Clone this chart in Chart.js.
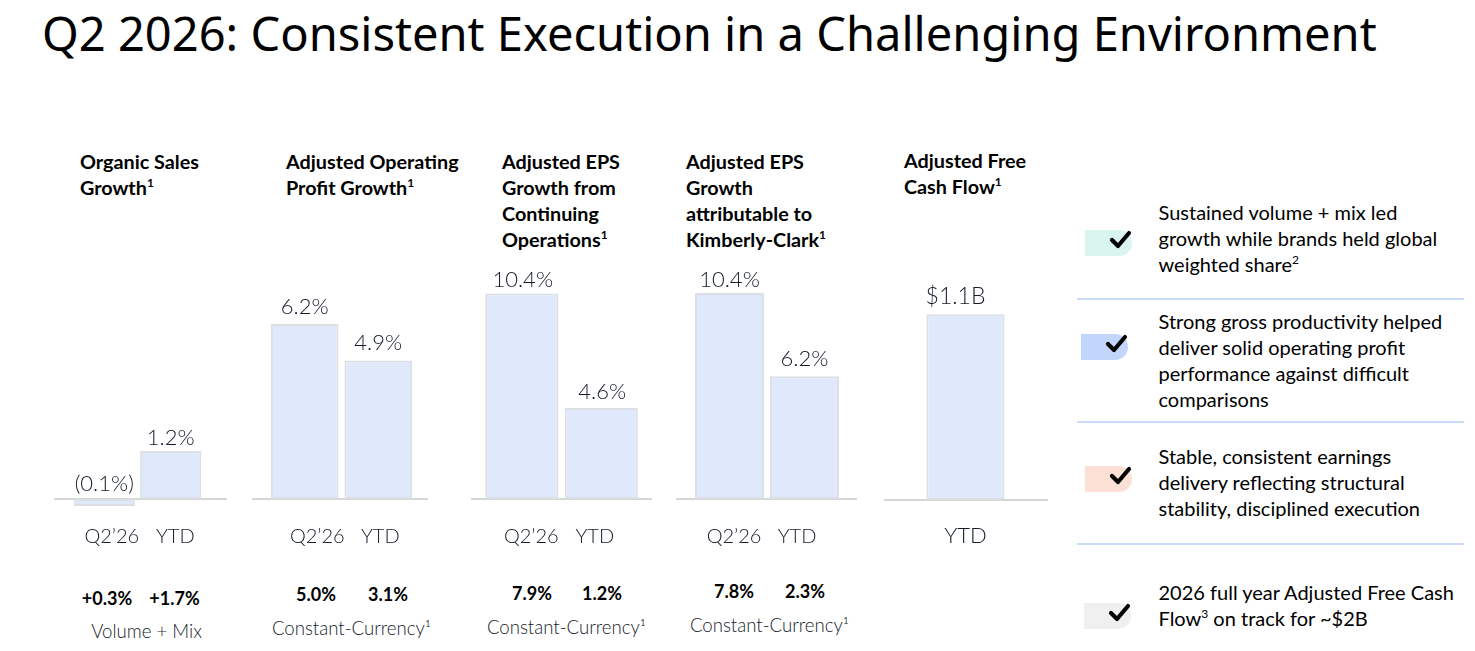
<!DOCTYPE html>
<html>
<head>
<meta charset="utf-8">
<script src="https://cdn.jsdelivr.net/npm/chart.js@4"></script>
<style>
  html, body { margin: 0; background: #fff; }
  body { width: 1475px; height: 651px; position: relative; overflow: hidden; font-family: Lato, sans-serif; }
  canvas { position: absolute; }
  .t { position: absolute; white-space: nowrap; }
  h1 { position: absolute; left: 42px; top: 1px; margin: 0; font: 400 47.07px "Noto Sans", sans-serif; color: #000; white-space: nowrap; }
  .head { font-weight: 700; font-size: 19.8px; line-height: 26px; color: #000; }
  .bold { font-weight: 700; font-size: 18px; color: #000; transform: translate(-50%, -50%); }
  .note { font-weight: 300; font-size: 18.6px; color: #141b2b; transform: translate(-50%, -50%); }
  .side { font-size: 20px; line-height: 26px; color: #000; }
  .side sup, .head sup { font-size: 0.6em; line-height: 0; }
  .rule { position: absolute; left: 1077px; width: 387px; height: 2px; background: #cbdaf8; }
  .pill { position: absolute; width: 47px; height: 26px; border-radius: 0 13px 13px 0; }
  .pill svg { position: absolute; left: 24px; top: -2px; }
</style>
</head>
<body>
<h1>Q2 2026: Consistent Execution in a Challenging Environment</h1>

<script>
// values
const organicLabels = ['Q2’26', 'YTD'];
const organicValues = [-0.1, 1.2];
const opProfitLabels = ['Q2’26', 'YTD'];
const opProfitValues = [6.2, 4.9];
const epsContLabels = ['Q2’26', 'YTD'];
const epsContValues = [10.4, 4.6];
const epsKcLabels = ['Q2’26', 'YTD'];
const epsKcValues = [10.4, 6.2];
const fcfLabels = ['YTD'];
const fcfValues = [1.1];

const headings = [
  'Organic Sales<br>Growth<sup>1</sup>',
  'Adjusted Operating<br>Profit Growth<sup>1</sup>',
  'Adjusted EPS<br>Growth from<br>Continuing<br>Operations<sup>1</sup>',
  'Adjusted EPS<br>Growth<br>attributable to<br>Kimberly-Clark<sup>1</sup>',
  'Adjusted Free<br>Cash Flow<sup>1</sup>'
];
const subValues = [['+0.3%', '+1.7%'], ['5.0%', '3.1%'], ['7.9%', '1.2%'], ['7.8%', '2.3%']];
const subNotes = ['Volume + Mix', 'Constant-Currency¹', 'Constant-Currency¹', 'Constant-Currency¹'];
const sideNotes = [
  'Sustained volume + mix led<br>growth while brands held global<br>weighted share<sup>2</sup>',
  'Strong gross productivity helped<br>deliver solid operating profit<br>performance against difficult<br>comparisons',
  'Stable, consistent earnings<br>delivery reflecting structural<br>stability, disciplined execution',
  '2026 full year Adjusted Free Cash<br>Flow<sup>3</sup> on track for ~$2B'
];

// layout
const panelBoxes = [
  { left: 54, width: 173, padL: 17, padR: 23, yMin: -1.525, yMax: 6.1, minBar: 7, gaps: [8, 6], valueShift: 0, tickShift: [7.5, 4.5], tickDrop: 38, valueSize: 22 },
  { left: 252, width: 176, padL: 16, padR: 13, yMin: -2.16, yMax: 8.64, minBar: 0, gaps: [10, 11], valueShift: 0, tickShift: [12.5, 2], tickDrop: 38, valueSize: 22 },
  { left: 471, width: 181, padL: 11, padR: 11, yMin: -3.09, yMax: 12.35, minBar: 0, gaps: [7, 9], valueShift: 1, tickShift: [9.5, -6.5], tickDrop: 38, valueSize: 22 },
  { left: 676, width: 181, padL: 16, padR: 15, yMin: -3.08, yMax: 12.32, minBar: 0, gaps: [6, 10], valueShift: 0, tickShift: [4.5, -7.5], tickDrop: 38, valueSize: 22 },
  { left: 884, width: 164, padL: 39, padR: 40, yMin: -0.355, yMax: 1.45, minBar: 0, gaps: [10], valueShift: -10, tickShift: [0], tickDrop: 36, valueSize: 23 }
];
const headPos = [[80, 148], [286, 148], [502, 148], [686, 148], [904, 147]];
const subPos = [[[107, 598], [174.5, 598]], [[316, 594], [388, 594]], [[532, 593], [602, 593]], [[734, 591], [805, 591]]];
const notePos = [[146.5, 631], [351.5, 628], [566.5, 627], [769.5, 625]];
const sidePos = [[1158.5, 199], [1158.5, 308], [1158.5, 443], [1158.5, 579]];
const pillPos = [[1085, 230, '#d9f5f0'], [1081, 334, '#c2d5fb'], [1085, 466, '#fde0d5'], [1084, 603, '#f0f0f0']];
const rulePos = [298, 421, 543];

function addText(cls, html, x, y) {
  const el = document.createElement('div');
  el.className = 't ' + cls;
  el.innerHTML = html;
  el.style.left = x + 'px';
  el.style.top = y + 'px';
  document.body.appendChild(el);
}

headings.forEach((h, i) => addText('head', h, headPos[i][0], headPos[i][1]));
subValues.forEach((pair, i) => pair.forEach((v, j) => addText('bold', v, subPos[i][j][0], subPos[i][j][1])));
subNotes.forEach((n, i) => addText('note', n, notePos[i][0], notePos[i][1]));
sideNotes.forEach((n, i) => addText('side', n, sidePos[i][0], sidePos[i][1]));
rulePos.forEach(y => {
  const r = document.createElement('div');
  r.className = 'rule';
  r.style.top = y + 'px';
  document.body.appendChild(r);
});
pillPos.forEach(p => {
  const d = document.createElement('div');
  d.className = 'pill';
  d.style.left = p[0] + 'px';
  d.style.top = p[1] + 'px';
  d.style.background = p[2];
  d.innerHTML = '<svg width="24" height="24" viewBox="0 0 24 24"><polyline points="3,12 9,18 20,5" fill="none" stroke="#000" stroke-width="4.2" stroke-linecap="round" stroke-linejoin="round"/></svg>';
  document.body.appendChild(d);
});

// zero line runs the full width of the canvas, past the plot area
const baseline = {
  id: 'baseline',
  beforeDatasetsDraw(chart) {
    const y = chart.scales.y.getPixelForValue(0);
    const ctx = chart.ctx;
    ctx.save();
    ctx.strokeStyle = '#c9c9c9';
    ctx.lineWidth = 1.5;
    ctx.beginPath();
    ctx.moveTo(0, y);
    ctx.lineTo(chart.width, y);
    ctx.stroke();
    ctx.restore();
  }
};

// value labels over the bars, category labels under the zero line
// the slide's labels sit a little off the bar centres, so each carries its own shift
const barText = {
  id: 'barText',
  afterDatasetsDraw(chart, args, opts) {
    const ctx = chart.ctx;
    const bars = chart.getDatasetMeta(0).data;
    const zero = chart.scales.y.getPixelForValue(0);
    ctx.save();
    ctx.fillStyle = '#141b2b';
    ctx.textAlign = 'center';
    bars.forEach((bar, i) => {
      const v = chart.data.datasets[0].data[i];
      const top = v < 0 ? zero : bar.y;
      ctx.font = '300 ' + opts.box.valueSize + 'px Lato';
      ctx.textBaseline = 'alphabetic';
      ctx.fillText(opts.format(v), bar.x + opts.box.valueShift, top - opts.box.gaps[i]);
      ctx.font = '300 ' + opts.tickSize + 'px Lato';
      ctx.textBaseline = 'middle';
      ctx.fillText(chart.data.labels[i], chart.scales.x.getPixelForTick(i) + opts.box.tickShift[i], zero + opts.box.tickDrop);
    });
    ctx.restore();
  }
};

function makePanel(box, labels, values, format, tickSize) {
  const canvas = document.createElement('canvas');
  canvas.width = box.width;
  canvas.height = 305;
  canvas.style.left = box.left + 'px';
  canvas.style.top = '255px';
  document.body.appendChild(canvas);

  new Chart(canvas, {
    type: 'bar',
    data: {
      labels: labels,
      datasets: [{
        data: values,
        backgroundColor: '#e0e9fc',
        borderColor: '#dcdfe4',
        borderWidth: 2,
        borderSkipped: false,
        barPercentage: 0.92,
        categoryPercentage: 1,
        minBarLength: box.minBar
      }]
    },
    plugins: [baseline, barText],
    options: {
      responsive: false,
      animation: false,
      devicePixelRatio: 1,
      layout: { padding: { left: box.padL, right: box.padR, top: 0, bottom: 0 } },
      plugins: {
        legend: { display: false },
        title: { display: false },
        tooltip: { enabled: false },
        barText: { format: format, box: box, tickSize: tickSize }
      },
      scales: {
        x: { display: false },
        y: { display: false, min: box.yMin, max: box.yMax }
      }
    }
  });
}

const pct = v => v < 0 ? '(' + Math.abs(v).toFixed(1) + '%)' : v.toFixed(1) + '%';
const bil = v => '$' + v.toFixed(1) + 'B';

makePanel(panelBoxes[0], organicLabels, organicValues, pct, 20);
makePanel(panelBoxes[1], opProfitLabels, opProfitValues, pct, 20);
makePanel(panelBoxes[2], epsContLabels, epsContValues, pct, 20);
makePanel(panelBoxes[3], epsKcLabels, epsKcValues, pct, 20);
makePanel(panelBoxes[4], fcfLabels, fcfValues, bil, 22);
</script>
</body>
</html>
